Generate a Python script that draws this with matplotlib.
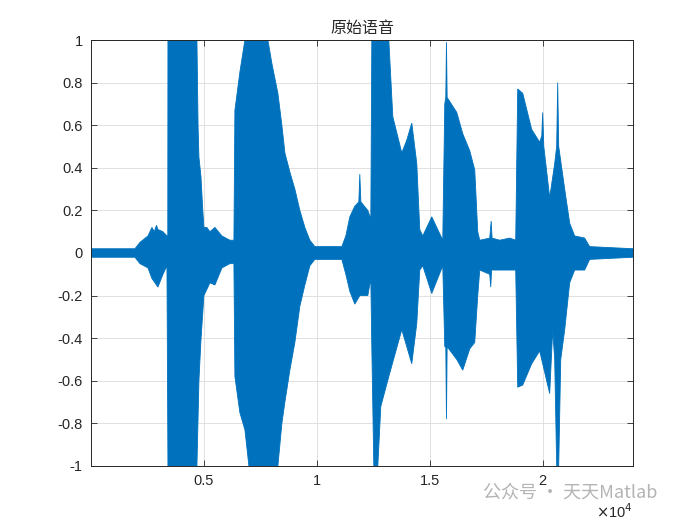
import matplotlib.pyplot as plt
from matplotlib.ticker import FixedLocator, FixedFormatter

plt.rcParams['font.family'] = ['Liberation Sans', 'Noto Sans CJK SC']
plt.rcParams['axes.unicode_minus'] = False

# 语音波形包络（采样点，幅值）
up_x = [0, 1947, 2168, 2522, 2699, 2800, 2900, 2965, 3186, 3363, 3400, 3407, 4691, 4740,
        4779, 4868, 4950, 5000, 5130, 5266, 5487, 5797, 6151, 6328, 6372, 6593, 6815, 7832,
        8009, 8275, 8452, 8585, 8806, 9027, 9248, 9470, 9691, 9912, 11107, 11284, 11461,
        11682, 11860, 11903, 11950, 12257, 12390, 12434, 13187, 13364, 13762, 13983, 14204,
        14426, 14558, 14691, 15089, 15576, 15665, 15710, 15740, 15770, 16196, 16461, 16771,
        16992, 17125, 17213, 17656, 17720, 17760, 18098, 18541, 18806, 18895, 19116, 19514,
        19868, 19960, 20001, 20050, 20311, 20532, 20620, 20665, 20710, 20842, 20975, 21196,
        21417, 21860, 22081, 24000]
up_y = [0.02, 0.02, 0.05, 0.08, 0.12, 0.10, 0.13, 0.11, 0.10, 0.08, 0.08, 1.0, 1.0, 0.60,
        0.45, 0.36, 0.20, 0.12, 0.12, 0.10, 0.12, 0.08, 0.06, 0.06, 0.67, 0.85, 1.0, 1.0,
        0.89, 0.75, 0.60, 0.47, 0.38, 0.30, 0.20, 0.12, 0.06, 0.03, 0.03, 0.08, 0.17,
        0.22, 0.24, 0.37, 0.24, 0.20, 0.16, 1.0, 1.0, 0.64, 0.47, 0.53, 0.61,
        0.42, 0.11, 0.08, 0.17, 0.06, 0.70, 0.73, 0.99, 0.73, 0.66, 0.56, 0.48,
        0.39, 0.10, 0.06, 0.07, 0.15, 0.07, 0.06, 0.07, 0.06, 0.77, 0.75, 0.58,
        0.52, 0.55, 0.66, 0.50, 0.26, 0.42, 0.50, 0.80, 0.50, 0.40, 0.30, 0.14,
        0.08, 0.07, 0.03, 0.02]

lo_x = [0, 1947, 2168, 2522, 2699, 2965, 3186, 3363, 3407, 4691, 4779, 4868, 5000, 5266,
        5487, 5797, 6151, 6328, 6372, 6593, 6815, 6992, 8275, 8452, 8585, 8806, 9027, 9248,
        9470, 9691, 9912, 11107, 11284, 11461, 11682, 11903, 12257, 12390, 12434, 12523,
        12700, 12833, 13187, 13762, 14204, 14426, 14558, 14691, 15089, 15576, 15665, 15710,
        15740, 15770, 16196, 16461, 16771, 16992, 17125, 17213, 17656, 17700, 17740, 18098,
        18541, 18806, 18895, 19116, 19514, 19868, 20311, 20444, 20532, 20620, 20710, 20800,
        20975, 21196, 21417, 21860, 22081, 24000]
lo_y = [-0.02, -0.02, -0.05, -0.07, -0.12, -0.16, -0.10, -0.06, -1.0, -1.0, -0.60, -0.41,
        -0.20, -0.14, -0.15, -0.07, -0.05, -0.05, -0.58, -0.75, -0.83, -1.0, -1.0, -0.80,
        -0.70, -0.55, -0.42, -0.25, -0.15, -0.06, -0.03, -0.03, -0.10, -0.18, -0.24, -0.20,
        -0.20, -0.12, -0.44, -1.0, -1.0, -0.72, -0.58, -0.36, -0.52, -0.33, -0.08, -0.06,
        -0.19, -0.06, -0.44, -0.44, -0.78, -0.44, -0.50, -0.55, -0.45, -0.42, -0.20, -0.08,
        -0.10, -0.16, -0.08, -0.08, -0.08, -0.08, -0.63, -0.62, -0.52, -0.46, -0.66, -0.36,
        -0.50, -1.0, -1.0, -0.50, -0.36, -0.14, -0.08, -0.08, -0.03, -0.02]

x_ticks = [5000, 10000, 15000, 20000]
x_labels = ['0.5', '1', '1.5', '2']
y_ticks = [-1, -0.8, -0.6, -0.4, -0.2, 0, 0.2, 0.4, 0.6, 0.8, 1]
y_labels = ['-1', '-0.8', '-0.6', '-0.4', '-0.2', '0', '0.2', '0.4', '0.6', '0.8', '1']

blue = '#0072BD'

fig = plt.figure(figsize=(7, 5.25), dpi=100)
ax = fig.add_axes([0.13, 0.1124, 0.7743, 0.8114])

# 上下包络拼成一个多边形
poly_x = up_x + lo_x[::-1]
poly_y = up_y + lo_y[::-1]
ax.fill(poly_x, poly_y, color=blue, linewidth=0.6, edgecolor=blue)

ax.set_xlim(0, 24000)
ax.set_ylim(-1, 1)
ax.xaxis.set_major_locator(FixedLocator(x_ticks))
ax.xaxis.set_major_formatter(FixedFormatter(x_labels))
ax.yaxis.set_major_locator(FixedLocator(y_ticks))
ax.yaxis.set_major_formatter(FixedFormatter(y_labels))
ax.tick_params(direction='in', top=True, right=True, labelsize=10.5, length=4,
               width=0.6, color='#262626', labelcolor='#262626', pad=6)
ax.grid(True, color='#dcdcdc', linewidth=0.6)
ax.set_axisbelow(True)
for s in ax.spines.values():
    s.set_linewidth(0.7)
    s.set_color('#262626')

ax.set_title('原始语音', fontsize=11.5, family=['Noto Sans CJK SC'], color='#262626', pad=5)
ax.text(1.0, -0.085, r'$\times$10$^{4}$', transform=ax.transAxes, ha='right', va='top',
        fontsize=10.5, color='#262626')

# 水印
fig.text(0.69, 0.062, '公众号 · 天天Matlab', fontsize=13, color='#b4b4b4',
         family=['Noto Sans CJK SC', 'DejaVu Sans'], va='center')

fig.savefig('out.png', dpi=100, facecolor='white')
